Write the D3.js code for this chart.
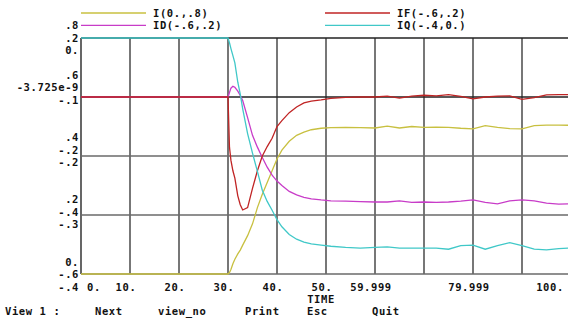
<!DOCTYPE html>
<html>
<head>
<meta charset="utf-8">
<script src="https://cdn.jsdelivr.net/npm/d3@7/dist/d3.min.js"></script>
<style>
  html, body { margin: 0; padding: 0; background: #fff; }
  svg { display: block; }
  text { font-family: 'DejaVu Sans Mono', monospace; font-size: 10.5px; letter-spacing: 0.6px; font-weight: bold; fill: #111; }
</style>
</head>
<body>
<svg id="chart"></svg>
<script>
// time base shared by all four traces
const time = [0, 30, 30.3, 30.6, 31, 31.4, 32, 32.5, 33, 34, 35, 36, 37, 38, 39, 40, 41, 42.5, 44, 45.5,
  47, 49, 51, 54, 57, 60, 62.5, 65, 67.5, 70, 72.5, 75, 77.5, 80, 82.5, 85, 87.5, 90, 92.5, 95, 97.5, 100];

const iVals = [0, 0, 0.005, 0.015, 0.035, 0.05, 0.068, 0.081, 0.098, 0.13, 0.17, 0.225, 0.27, 0.31, 0.35, 0.39,
  0.42, 0.45, 0.47, 0.481, 0.489, 0.494, 0.496, 0.497, 0.496, 0.495, 0.501, 0.495, 0.5, 0.497, 0.498, 0.497,
  0.494, 0.492, 0.503, 0.497, 0.493, 0.492, 0.503, 0.505, 0.505, 0.504];

const idVals = [0, 0, 0.015, 0.03, 0.036, 0.033, 0.02, 0.005, -0.012, -0.07, -0.13, -0.17, -0.205, -0.238,
  -0.265, -0.285, -0.3, -0.32, -0.332, -0.34, -0.345, -0.349, -0.352, -0.353, -0.355, -0.356, -0.356, -0.352,
  -0.357, -0.356, -0.357, -0.356, -0.353, -0.349, -0.357, -0.362, -0.352, -0.349, -0.352, -0.36, -0.363, -0.362];

const ifVals = [0, 0, -0.17, -0.215, -0.25, -0.275, -0.335, -0.365, -0.383, -0.375, -0.31, -0.25, -0.2, -0.168,
  -0.14, -0.1, -0.08, -0.053, -0.034, -0.02, -0.014, -0.01, -0.005, -0.001, 0, 0, 0.003, -0.004, 0.003, 0.006,
  0.004, 0.008, 0.002, -0.006, 0, 0.003, 0.004, -0.008, -0.002, 0.007, 0.008, 0.008];

const iqVals = [0, 0, -0.008, -0.018, -0.03, -0.042, -0.075, -0.095, -0.12, -0.162, -0.195, -0.226, -0.258,
  -0.277, -0.292, -0.308, -0.32, -0.333, -0.341, -0.346, -0.349, -0.351, -0.353, -0.355, -0.356, -0.355, -0.354,
  -0.356, -0.356, -0.356, -0.356, -0.358, -0.352, -0.351, -0.358, -0.352, -0.347, -0.352, -0.358, -0.359, -0.357, -0.356];

const seriesNames = ['I(0.,.8)', 'ID(-.6,.2)', 'IF(-.6,.2)', 'IQ(-.4,0.)'];
const seriesRanges = [[0, 0.8], [-0.6, 0.2], [-0.6, 0.2], [-0.4, 0]];
const seriesColors = ['#c8c040', '#c83cc8', '#c02424', '#40c8c8'];

const xGridVals = [0, 10, 20, 30, 40, 50, 60, 70, 80, 90, 100];
const xTickVals = [0, 10, 20, 30, 40, 50, 60, 80, 100];
const xTickLabels = ['0.', '10.', '20.', '30.', '40.', '50.', '59.999', '79.999', '100.'];

// three stacked label columns on the left, one row per gridline
const yColI = [['.8', 0.8], ['.6', 0.6], ['.4', 0.4], ['.2', 0.2], ['0.', 0]];
const yColD = [['.2', 0.2], ['-3.725e-9', 0], ['-.2', -0.2], ['-.4', -0.4], ['-.6', -0.6]];
const yColQ = [['0.', 0], ['-.1', -0.1], ['-.2', -0.2], ['-.3', -0.3], ['-.4', -0.4]];

const menuItems = ['View 1 :', 'Next', 'view_no', 'Print', 'Esc', 'Quit'];
const menuX = [5, 95, 158, 245, 307, 372];

const W = 568, H = 323;
const plot = { left: 81, right: 571, top: 38, bottom: 274 };
// text sits on a character grid, like the old DOS screen
const rowH = 12.45, row0 = 13;
const rowY = r => row0 + r * rowH;

const svg = d3.select('#chart').attr('width', W).attr('height', H);
svg.append('rect').attr('width', W).attr('height', H).attr('fill', '#fff');

const x = d3.scaleLinear().domain([0, 100]).range([plot.left, plot.right]);
const yScales = seriesRanges.map(r => d3.scaleLinear().domain(r).range([plot.bottom, plot.top]));
const yI = yScales[0], yD = yScales[1], yQ = yScales[3];

const g = svg.append('g');

// grid
g.selectAll('.vgrid').data(xGridVals).enter().append('line')
  .attr('class', 'vgrid')
  .attr('x1', d => x(d)).attr('x2', d => x(d))
  .attr('y1', plot.top).attr('y2', plot.bottom)
  .attr('stroke', d => d === 0 ? '#000' : '#4a4a4a')
  .attr('stroke-width', d => d === 0 ? 1.2 : 1.5);

g.selectAll('.hgrid').data(yColI).enter().append('line')
  .attr('class', 'hgrid')
  .attr('x1', plot.left).attr('x2', W)
  .attr('y1', d => yI(d[1])).attr('y2', d => yI(d[1]))
  .attr('stroke', (d, i) => i === 0 || i === 1 ? '#222' : '#6a6a6a')
  .attr('stroke-width', 1.5);

// traces
const traces = [iVals, idVals, ifVals, iqVals];
traces.forEach((vals, k) => {
  const line = d3.line()
    .x((d, i) => x(time[i]))
    .y(d => yScales[k](d));
  g.append('path')
    .datum(vals)
    .attr('fill', 'none')
    .attr('stroke', seriesColors[k])
    .attr('stroke-width', 1.3)
    .attr('d', line);
});

// y labels, snapped to text rows
const cols = [[yColI, yI, -1], [yColD, yD, 0], [yColQ, yQ, 1]];
cols.forEach(([col, sc, off]) => {
  svg.selectAll(null).data(col).enter().append('text')
    .attr('x', 79)
    .attr('y', d => rowY(Math.floor((sc(d[1]) - row0) / rowH + 0.06) + off))
    .attr('dy', '0.35em')
    .attr('text-anchor', 'end')
    .text(d => d[0]);
});

// x labels
svg.selectAll('.xlab').data(xTickVals).enter().append('text')
  .attr('class', 'xlab')
  .attr('x', (d, i) => d === 0 ? x(d) + 6 : Math.min(x(d) - 4, W - 18))
  .attr('y', rowY(22))
  .attr('dy', '0.35em')
  .attr('text-anchor', d => d === 0 ? 'start' : 'middle')
  .text((d, i) => xTickLabels[i]);

svg.append('text')
  .attr('x', x(50) - 5).attr('y', rowY(23)).attr('dy', '0.35em')
  .attr('text-anchor', 'middle')
  .text('TIME');

// legend: I and ID on the left, IF and IQ on the right
const legend = svg.selectAll('.leg').data(seriesNames).enter().append('g')
  .attr('class', 'leg')
  .attr('transform', (d, i) => `translate(${i < 2 ? 81 : 325},${rowY(i % 2)})`);
legend.append('line')
  .attr('x1', 0).attr('x2', 65)
  .attr('stroke', (d, i) => seriesColors[i])
  .attr('stroke-width', 1.3);
legend.append('text')
  .attr('x', 72).attr('dy', '0.35em')
  .text(d => d);

// menu bar
svg.selectAll('.menu').data(menuItems).enter().append('text')
  .attr('class', 'menu')
  .attr('x', (d, i) => menuX[i])
  .attr('y', rowY(24)).attr('dy', '0.35em')
  .text(d => d);
</script>
</body>
</html>
